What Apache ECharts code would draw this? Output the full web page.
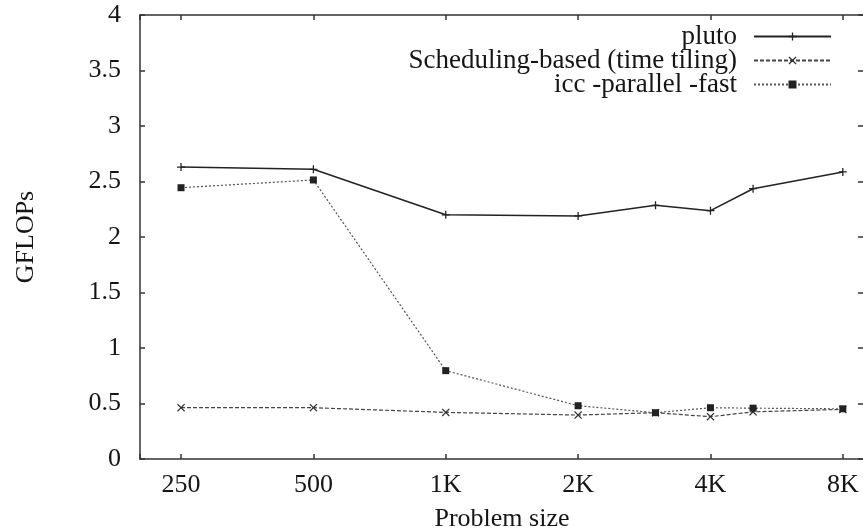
<!DOCTYPE html>
<html>
<head>
<meta charset="utf-8">
<script src="https://cdn.jsdelivr.net/npm/echarts@6/dist/echarts.min.js"></script>
<style>
  html, body { margin: 0; padding: 0; background: #fff; }
  #chart { width: 863px; height: 530px; }
</style>
</head>
<body>
<div id="chart"></div>
<script>
// Problem sizes (x) and tick labels
const problemSizes = [250, 500, 1000, 2000, 3000, 4000, 5000, 8000];
const tickSizes = [250, 500, 1000, 2000, 4000, 8000];
const tickLabels = ['250', '500', '1K', '2K', '4K', '8K'];

// GFLOPs per series
const plutoValues = [2.63, 2.61, 2.20, 2.19, 2.285, 2.237, 2.435, 2.586];
const schedValues = [0.462, 0.462, 0.42, 0.396, 0.417, 0.381, 0.425, 0.447];
const iccValues = [2.444, 2.514, 0.796, 0.48, 0.417, 0.462, 0.458, 0.452];

const seriesNames = ['pluto', 'Scheduling-based (time tiling)', 'icc -parallel -fast'];

// log2 position relative to the smallest size
const pos = s => Math.log2(s / 250);
const labelFor = v => {
  for (let i = 0; i < tickSizes.length; i++) {
    if (Math.abs(pos(tickSizes[i]) - v) < 1e-6) return tickLabels[i];
  }
  return '';
};
const pairs = vals => problemSizes.map((s, i) => [pos(s), vals[i]]);

const FONT = '"Liberation Serif", "Times New Roman", serif';
const TXT = '#151515';
const FRAME = '#333';

const plusPath = 'path://M4.2,0H5.8V4.2H10V5.8H5.8V10H4.2V5.8H0V4.2H4.2Z';
const crossPath = 'path://M0,1.1L1.1,0L5,3.9L8.9,0L10,1.1L6.1,5L10,8.9L8.9,10L5,6.1L1.1,10L0,8.9L3.9,5Z';

const frameLine = { show: true, onZero: false, lineStyle: { color: FRAME, width: 1.5 } };
const tickStyle = { show: true, inside: true, length: 5, lineStyle: { color: FRAME, width: 1.5 } };

const chart = echarts.init(document.getElementById('chart'));
chart.setOption({
  animation: false,
  backgroundColor: '#fff',
  grid: { left: 140, right: -1, top: 15, bottom: 71, containLabel: false, outerBoundsMode: 'none' },
  legend: {
    orient: 'vertical',
    right: 31,
    top: 23,
    padding: 0,
    align: 'right',
    itemWidth: 77,
    itemHeight: 10,
    itemGap: -3,
    data: seriesNames,
    textStyle: {
      fontFamily: FONT, fontSize: 27, color: TXT,
      padding: [0, 12, 0, 0]
    }
  },
  xAxis: [{
    type: 'value',
    min: -0.31, max: 5.16,
    splitNumber: 5,
    name: 'Problem size',
    nameLocation: 'middle',
    nameGap: 47,
    nameTextStyle: { fontFamily: FONT, fontSize: 26, color: TXT },
    axisLine: frameLine,
    axisTick: tickStyle,
    axisLabel: {
      fontFamily: FONT, fontSize: 26, color: TXT, margin: 13,
      showMinLabel: true, showMaxLabel: true,
      formatter: v => labelFor(v)
    },
    splitLine: { show: false }
  }, {
    type: 'value',
    position: 'top',
    min: -0.31, max: 5.16,
    splitNumber: 5,
    axisLine: frameLine,
    axisTick: tickStyle,
    axisLabel: { show: false },
    splitLine: { show: false }
  }],
  yAxis: [{
    type: 'value',
    position: 'left',
    min: 0, max: 4, interval: 0.5,
    name: 'GFLOPs',
    nameLocation: 'middle',
    nameGap: 101,
    nameRotate: 90,
    nameTextStyle: { fontFamily: FONT, fontSize: 26, color: TXT },
    axisLine: frameLine,
    axisTick: tickStyle,
    axisLabel: { fontFamily: FONT, fontSize: 26, color: TXT, margin: 19 },
    splitLine: { show: false }
  }, {
    type: 'value',
    position: 'right',
    min: 0, max: 4, interval: 0.5,
    axisLine: frameLine,
    axisTick: { show: true, inside: true, length: 6, lineStyle: { color: FRAME, width: 1.5 } },
    axisLabel: { show: false },
    splitLine: { show: false }
  }],
  series: [{
    name: seriesNames[0],
    type: 'line',
    data: pairs(plutoValues),
    symbol: plusPath,
    symbolSize: 8,
    color: '#222',
    lineStyle: { color: '#222', width: 1.5, type: 'solid' },
    itemStyle: { color: '#222' }
  }, {
    name: seriesNames[1],
    type: 'line',
    data: pairs(schedValues),
    symbol: crossPath,
    symbolSize: 8,
    color: '#333',
    lineStyle: { color: '#444', width: 1.2, type: [4, 2] },
    itemStyle: { color: '#333' }
  }, {
    name: seriesNames[2],
    type: 'line',
    data: pairs(iccValues),
    symbol: 'rect',
    symbolSize: 7,
    color: '#222',
    lineStyle: { color: '#555', width: 1.2, type: [2, 2] },
    itemStyle: { color: '#222' }
  }]
});
</script>
</body>
</html>
